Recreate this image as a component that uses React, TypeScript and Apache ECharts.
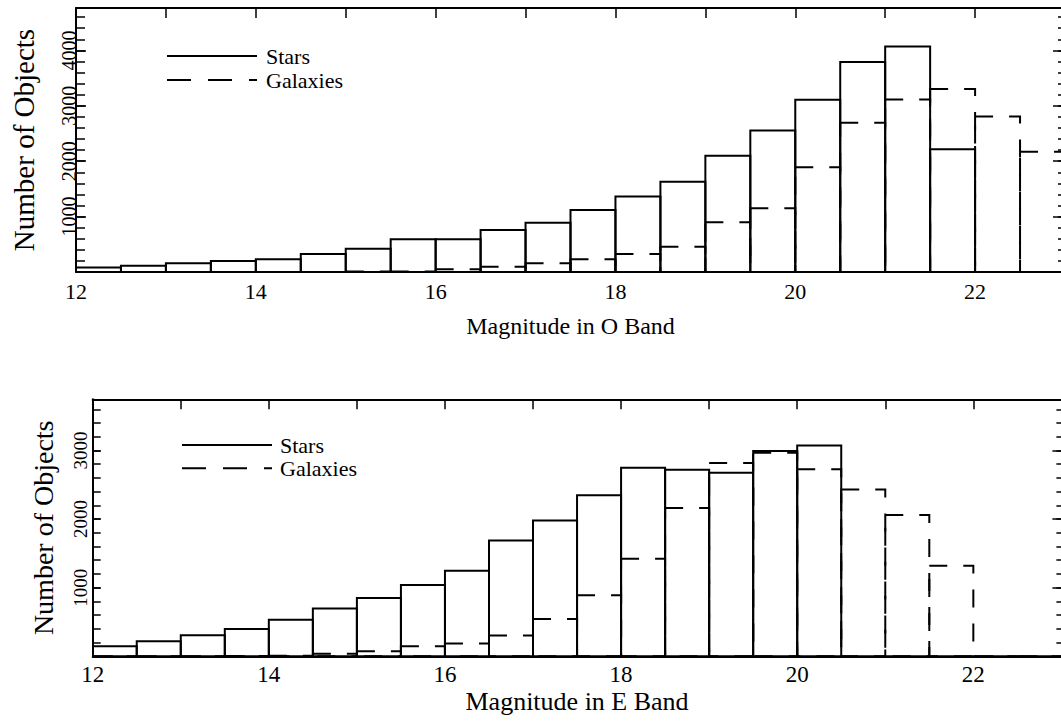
import React, { useEffect, useRef } from "react";
import * as echarts from "echarts";

// ---- data ----
const binStarts = [12, 12.5, 13, 13.5, 14, 14.5, 15, 15.5, 16, 16.5, 17, 17.5, 18, 18.5, 19, 19.5, 20, 20.5, 21, 21.5, 22, 22.5];
const BIN_WIDTH = 0.5;
const oStars = [80, 114, 157, 199, 229, 325, 421, 591, 591, 759, 891, 1121, 1361, 1627, 2096, 2554, 3109, 3790, 4072, 2217, 0, 0];
const oGalaxies = [0, 0, 0, 0, 1, 2, 8, 8, 49, 96, 157, 229, 325, 458, 898, 1151, 1892, 2693, 3114, 3302, 2807, 2169];
const eStars = [147, 221, 308, 396, 533, 698, 848, 1038, 1248, 1686, 1978, 2347, 2746, 2717, 2673, 2990, 3073, 0, 0, 0, 0, 0];
const eGalaxies = [0, 0, 2, 3, 8, 36, 75, 148, 187, 304, 542, 888, 1423, 2162, 2815, 2965, 2727, 2430, 2060, 1321, 0, 0];
const xTickLabels = ["12", "14", "16", "18", "20", "22"];
const yTickLabels = ["1000", "2000", "3000", "4000"];
const legendNames = ["Stars", "Galaxies"];

const FONT = "'Liberation Serif', 'Times New Roman', serif";

function histSeries(values: number[], panel: number, dashed: boolean) {
  return {
    type: "custom",
    xAxisIndex: panel * 2,
    yAxisIndex: panel * 4,
    silent: true,
    clip: true,
    z: dashed ? 3 : 4,
    data: values.map((v, i) => [binStarts[i], binStarts[i] + BIN_WIDTH, v]),
    encode: { x: [0, 1], y: 2 },
    renderItem: (params: any, api: any) => {
      const p0 = api.coord([api.value(0), api.value(2)]);
      const p1 = api.coord([api.value(1), 0]);
      return {
        type: "rect",
        shape: { x: p0[0], y: p0[1], width: p1[0] - p0[0], height: p1[1] - p0[1] },
        style: {
          fill: "transparent",
          stroke: "#000",
          lineWidth: 2,
          lineDash: dashed ? [18, 16] : null,
        },
      };
    },
  };
}

function xAxes(grid: number, name: string, labelSize: number, labelMargin: number, nameSize: number, nameGap: number) {
  return [
    {
      type: "value",
      gridIndex: grid,
      position: "bottom",
      min: 12,
      max: 23,
      interval: 1,
      name,
      nameLocation: "middle",
      nameGap,
      nameTextStyle: { fontSize: nameSize, fontFamily: FONT, color: "#000" },
      axisLine: { show: true, onZero: false, lineStyle: { color: "#000", width: 2 } },
      axisTick: { show: false },
      axisLabel: {
        fontSize: labelSize,
        fontFamily: FONT,
        color: "#000",
        margin: labelMargin,
        formatter: (v: number) => (xTickLabels.includes(String(v)) ? String(v) : ""),
      },
      splitLine: { show: false },
    },
    {
      type: "value",
      gridIndex: grid,
      position: "top",
      min: 12,
      max: 23,
      interval: 1,
      axisLine: { show: true, onZero: false, lineStyle: { color: "#000", width: 2 } },
      axisTick: { show: true, inside: true, length: 10, lineStyle: { color: "#000", width: 1.5 } },
      axisLabel: { show: false },
      splitLine: { show: false },
    },
  ];
}

function yAxes(grid: number, max: number, o: any) {
  const base = { type: "value", gridIndex: grid, min: 0, max, splitLine: { show: false } };
  return [
    {
      ...base,
      position: "left",
      interval: 1000,
      name: "Number of Objects",
      nameLocation: "middle",
      nameRotate: 90,
      nameGap: o.nameGap,
      nameTextStyle: { fontSize: o.nameSize, fontFamily: FONT, color: "#000" },
      axisLine: { show: true, onZero: false, lineStyle: { color: "#000", width: 2 } },
      axisTick: { show: true, inside: true, length: o.leftMajor, lineStyle: { color: "#000", width: 1.5 } },
      axisLabel: {
        rotate: 90,
        fontSize: o.labelSize,
        fontFamily: FONT,
        color: "#000",
        margin: o.labelMargin,
        formatter: (v: number) => (yTickLabels.includes(String(v)) ? String(v) : ""),
      },
    },
    {
      ...base,
      position: "left",
      interval: 200,
      axisLine: { show: false },
      axisTick: { show: true, inside: true, length: o.leftMinor, lineStyle: { color: "#000", width: 1.5 } },
      axisLabel: { show: false },
    },
    {
      ...base,
      position: "right",
      interval: 1000,
      axisLine: { show: true, onZero: false, lineStyle: { color: "#000", width: 2 } },
      axisTick: { show: true, inside: true, length: o.rightMajor, lineStyle: { color: "#000", width: 1.5 } },
      axisLabel: { show: false },
    },
    {
      ...base,
      position: "right",
      interval: 200,
      axisLine: { show: false },
      axisTick: { show: true, inside: true, length: o.rightMinor, lineStyle: { color: "#000", width: 1.5 } },
      axisLabel: { show: false },
    },
  ];
}

function legend(left: number, top: number, gap: number, textPad: number, fontSize: number) {
  return {
    orient: "vertical",
    left,
    top,
    padding: 0,
    itemWidth: 90,
    itemHeight: 22,
    itemGap: gap,
    selectedMode: false,
    data: legendNames,
    itemStyle: { opacity: 0 },
    textStyle: { fontSize, fontFamily: FONT, color: "#000", padding: [0, 0, 0, textPad] },
  };
}

export default function App() {
  const ref = useRef<HTMLDivElement>(null);
  useEffect(() => {
    if (!ref.current) return;
    const chart = echarts.init(ref.current, undefined, { renderer: "svg" });
    chart.setOption({
      animation: false,
      backgroundColor: "#fff",
      textStyle: { fontFamily: FONT, color: "#000" },
      grid: [
        { left: 76, top: 8, width: 989, height: 264, containLabel: false },
        { left: 92.7, top: 399.3, width: 968.7, height: 257, containLabel: false },
      ],
      xAxis: [
        ...xAxes(0, "Magnitude in O Band", 22, 8, 24, 42),
        ...xAxes(1, "Magnitude in E Band", 23, 7, 26, 32),
      ],
      yAxis: [
        ...yAxes(0, 4765, { nameGap: 38, nameSize: 29, labelSize: 20, labelMargin: -3, leftMajor: 10, leftMinor: 9, rightMajor: 12, rightMinor: 7 }),
        ...yAxes(1, 3745, { nameGap: 35, nameSize: 28, labelSize: 19, labelMargin: 3, leftMajor: 8, leftMinor: 8, rightMajor: 9, rightMinor: 5 }),
      ],
      legend: [legend(166, 45, 2, 4, 22), legend(181, 434, 1.3, 3, 22)],
      series: [
        histSeries(oGalaxies, 0, true),
        histSeries(oStars, 0, false),
        histSeries(eGalaxies, 1, true),
        histSeries(eStars, 1, false),
        {
          type: "line",
          name: legendNames[0],
          data: [],
          xAxisIndex: 0,
          yAxisIndex: 0,
          symbol: "none",
          color: "#000",
          lineStyle: { color: "#000", width: 1.5 },
        },
        {
          type: "line",
          name: legendNames[1],
          data: [],
          xAxisIndex: 0,
          yAxisIndex: 0,
          symbol: "none",
          color: "#000",
          lineStyle: { color: "#000", width: 1.5, type: [24, 17] },
        },
      ],
    });
    return () => chart.dispose();
  }, []);
  return (
    <div style={{ position: "fixed", left: 0, top: 0, width: 1061, height: 724, overflow: "hidden", background: "#fff" }}>
      <div ref={ref} style={{ width: 1070, height: 724 }} />
    </div>
  );
}
